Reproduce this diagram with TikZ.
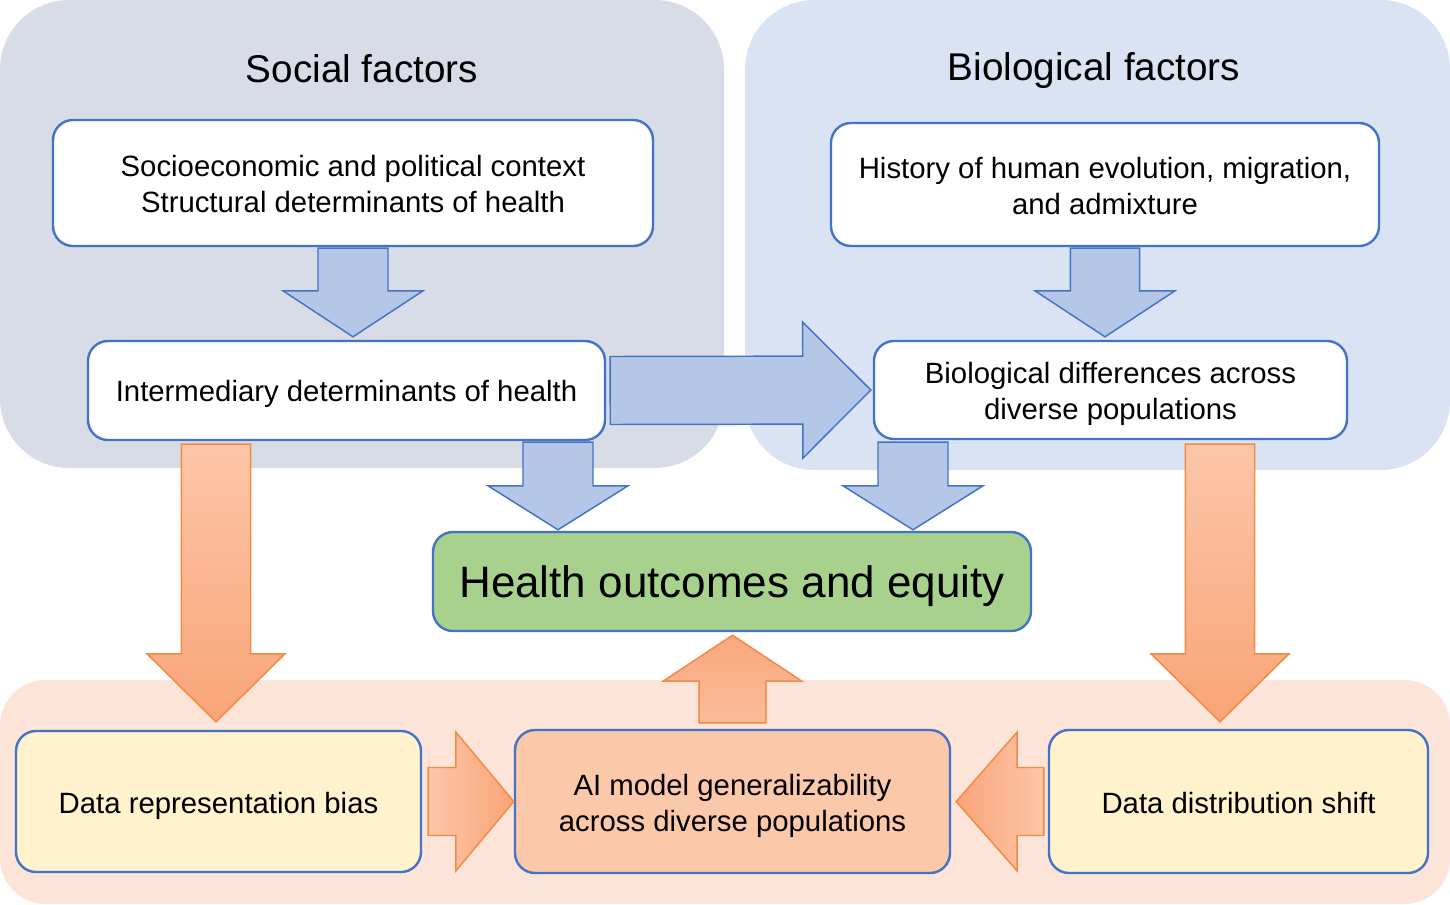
\documentclass[tikz,border=0pt]{standalone}
\usepackage{fontspec}
\setmainfont{Liberation Sans}
\usetikzlibrary{calc}
\definecolor{socbg}{HTML}{D7DCE6}
\definecolor{biobg}{HTML}{DAE3F3}
\definecolor{botbg}{HTML}{FCE5D8}
\definecolor{bordblue}{HTML}{4472C4}
\definecolor{arrblue}{HTML}{B4C7E7}
\definecolor{datafill}{HTML}{FFF2CC}
\definecolor{aifill}{HTML}{FBC9A9}
\definecolor{healthfill}{HTML}{A9D18E}
\definecolor{orgline}{HTML}{F08A45}
\definecolor{orglight}{HTML}{FCC6A8}
\definecolor{orgdark}{HTML}{F9A477}
\newcommand\lowerby[2]{\raisebox{-#1}[\height][\depth]{#2}}
\newcommand\blockarrow[6]{%
  \coordinate (ba-s) at #2;
  \coordinate (ba-e) at #3;
  \coordinate (ba-h) at ($(ba-e)!#6!(ba-s)$);
  \draw[#1] ($(ba-s)!#4!90:(ba-e)$) -- ($(ba-h)!#4!90:(ba-e)$) -- ($(ba-h)!#5!90:(ba-e)$) -- (ba-e)
    -- ($(ba-h)!#5!-90:(ba-e)$) -- ($(ba-h)!#4!-90:(ba-e)$) -- ($(ba-s)!#4!-90:(ba-e)$) -- cycle;
}
\tikzset{
  box/.style={draw=bordblue, line width=1.8pt, rounded corners=15pt, align=center,
    font=\fontsize{22}{27}\selectfont, inner sep=0pt},
  title/.style={font=\fontsize{29}{34}\selectfont},
  bluearrow/.style={draw=bordblue, fill=arrblue, line width=1.1pt, line join=miter},
  orgdown/.style={draw=orgline, line width=1.1pt, top color=orglight, bottom color=orgdark},
  orgup/.style={draw=orgline, line width=1.1pt, top color=orgdark!90!orglight, bottom color=orglight!70!orgdark},
  orgright/.style={draw=orgline, line width=1.1pt, left color=orglight, right color=orgdark},
  orgleft/.style={draw=orgline, line width=1.1pt, left color=orgdark, right color=orglight},
}
\begin{document}
\begin{tikzpicture}[x=0.75pt, y=-0.75pt]
\useasboundingbox (0,0) rectangle (1450,904);
% panels
\fill[socbg, rounded corners=52pt] (0,0) rectangle (724,468);
\fill[biobg, rounded corners=52pt] (745,0) rectangle (1450,470);
\fill[botbg, rounded corners=34pt] (0,680) rectangle (1450,904);
% titles
\node[title] (soctitle) at (362,69) {Social factors};
\node[title] (biotitle) at (1094,70) {Biological factors};
% boxes
\node[box, fill=white, minimum width=450pt, minimum height=94.5pt] (socio) at (353,183)
  {\lowerby{1pt}{Socioeconomic and political context}\\\lowerby{1pt}{Structural determinants of health}};
\node[box, fill=white, minimum width=387.75pt, minimum height=74.25pt] (inter) at (346.5,390.5)
  {\lowerby{2.25pt}{Intermediary determinants of health}};
\node[box, fill=white, minimum width=411pt, minimum height=92.25pt] (hist) at (1105,184.5)
  {\lowerby{1.5pt}{History of human evolution, migration,}\\\lowerby{1.5pt}{and admixture}};
\node[box, fill=white, minimum width=354.75pt, minimum height=73.5pt] (biod) at (1110.5,390)
  {\lowerby{3pt}{Biological differences across}\\\lowerby{3pt}{diverse populations}};
\node[box, fill=healthfill, minimum width=448.5pt, minimum height=74.25pt,
  font=\fontsize{33}{38}\selectfont] (health) at (732,581.5) {\lowerby{3.5pt}{Health outcomes and equity}};
\node[box, fill=datafill, minimum width=303.75pt, minimum height=105.75pt] (datarep) at (218.5,801.5)
  {\lowerby{3pt}{Data representation bias}};
\node[box, fill=aifill, minimum width=326.25pt, minimum height=107.25pt] (ai) at (732.5,801.5)
  {\lowerby{3pt}{AI model generalizability}\\\lowerby{3pt}{across diverse populations}};
\node[box, fill=datafill, minimum width=284.25pt, minimum height=107.25pt] (datadist) at (1238.5,801.5)
  {\lowerby{1.5pt}{Data distribution shift}};
% helper x positions
\coordinate (bx2) at (558,0);
\coordinate (bx3) at (913,0);
\coordinate (ox1) at (216,0);
\coordinate (ox2) at (1220,0);
% blue arrows
\blockarrow{bluearrow}{($(socio.south)+(0,1)$)}{($(socio.south |- inter.north)+(0,-3)$)}{26.25pt}{52.5pt}{34.5pt}
\blockarrow{bluearrow}{($(hist.south)+(0,1)$)}{($(hist.south |- biod.north)+(0,-3)$)}{26pt}{52.5pt}{34.5pt}
\blockarrow{bluearrow}{($(bx2 |- inter.south)+(0,1)$)}{($(bx2 |- health.north)+(0,-1)$)}{26.25pt}{52.5pt}{33pt}
\blockarrow{bluearrow}{($(bx3 |- biod.south)+(0,2)$)}{($(bx3 |- health.north)+(0,-1)$)}{26.25pt}{52.5pt}{33pt}
\blockarrow{bluearrow}{($(inter.east)+(4,0)$)}{($(biod.west)+(-2,0)$)}{25.5pt}{51pt}{51pt}
% orange arrows
\blockarrow{orgdown}{($(ox1 |- inter.south)+(0,3)$)}{($(ox1 |- datarep.north)+(0,-8)$)}{25.9pt}{51.75pt}{51pt}
\blockarrow{orgdown}{($(ox2 |- biod.south)+(0,4)$)}{($(ox2 |- datadist.north)+(0,-7)$)}{25.9pt}{51.75pt}{51pt}
\blockarrow{orgup}{($(ai.north)+(0,-6)$)}{($(ai.north |- health.south)+(0,3)$)}{25.1pt}{52.1pt}{34.5pt}
\blockarrow{orgright}{($(datarep.east)+(6,0)$)}{($(ai.west)+(0,0)$)}{25.5pt}{52.1pt}{43.5pt}
\blockarrow{orgleft}{($(datadist.west)+(-4,0)$)}{($(ai.east)+(5,0)$)}{25.5pt}{52.1pt}{45.75pt}
\end{tikzpicture}
\end{document}
